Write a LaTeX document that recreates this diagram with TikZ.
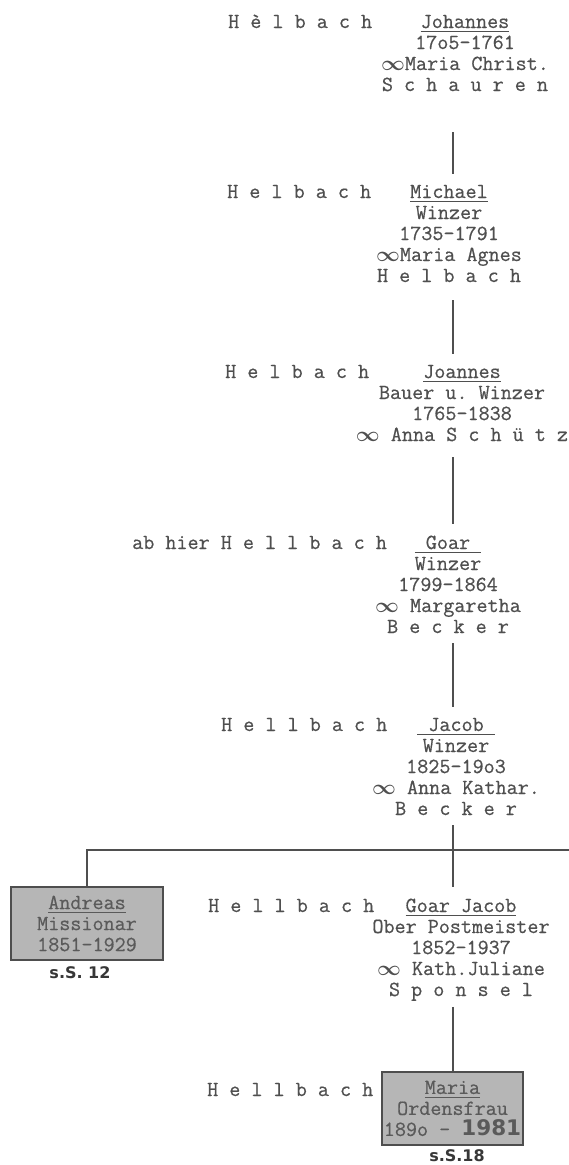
\documentclass[tikz,border=0pt]{standalone}
\usepackage{fontspec}
\setmonofont{Latin Modern Mono}[FakeBold=0.6]
\newfontfamily\refsans{DejaVu Sans}
\usepackage{xcolor}

\definecolor{ink}{HTML}{4F4F4F}
\definecolor{cardfill}{HTML}{B6B6B6}
\definecolor{cardline}{HTML}{4E4E4E}
\definecolor{cardtext}{HTML}{5A5A5A}

\newcommand{\wed}{$\boldsymbol{\infty}$}

\tikzset{
	surname/.style={anchor=base west, inner sep=0pt, text=ink, font=\ttfamily\fontsize{21.5}{21}\selectfont},
	person/.style={anchor=base, align=center, inner sep=0pt, text=ink, font=\ttfamily\fontsize{21.5}{21}\selectfont},
	card/.style={draw=cardline, fill=cardfill, line width=1.3pt, align=center, inner sep=0pt, text=cardtext, font=\ttfamily\fontsize{21.5}{21}\selectfont},
	pageref/.style={inner sep=0pt, text=ink!70!black, font=\refsans\bfseries\fontsize{16}{18}\selectfont},
	link/.style={draw=ink, line width=1.4pt, shorten >=11pt}
}

\usepackage{amsmath}

\begin{document}
\begin{tikzpicture}[x=1pt,y=-1pt]

	\useasboundingbox (0,0) rectangle (569,1165);

	% family names on the left
	\node[surname] (sn1) at (228,28) {H è l b a c h};
	\node[surname] (sn2) at (227,198) {H e l b a c h};
	\node[surname] (sn3) at (225,378) {H e l b a c h};
	\node[surname] (sn4) at (132,549) {ab hier H e l l b a c h};
	\node[surname] (sn5) at (221,731) {H e l l b a c h};
	\node[surname] (sn6) at (208,912) {H e l l b a c h};
	\node[surname] (sn7) at (207,1096) {H e l l b a c h};

	% generations (placed at the baseline of their last line)
	\node[person] (johannes) at (465,91) {\underline{Johannes}\\17o5-1761\\\wed Maria Christ.\\S c h a u r e n};
	\node[person] (michael) at (449,282) {\underline{Michael}\\Winzer\\1735-1791\\\wed Maria Agnes\\H e l b a c h};
	\node[person] (joannes) at (462,441) {\underline{Joannes}\\Bauer u. Winzer\\1765-1838\\\wed\ Anna S c h ü t z};
	\node[person] (goar) at (448,633) {\underline{\ Goar\ }\\Winzer\\1799-1864\\\wed\ Margaretha\\B e c k e r};
	\node[person] (jacob) at (456,815) {\underline{\ Jacob\ }\\Winzer\\1825-19o3\\\wed\ Anna Kathar.\\B e c k e r};
	\node[person] (goarjacob) at (461,996) {\underline{Goar Jacob}\\Ober Postmeister\\1852-1937\\\wed\ Kath.Juliane\\S p o n s e l};

	% boxed children
	\node[card, minimum width=152pt, minimum height=73pt] (andreas) at (87,923.5) {\underline{Andreas}\\Missionar\\1851-1929};
	\node[pageref] (refandreas) at (80,973) {s.S. 12};
	\node[card, minimum width=141pt, minimum height=73pt] (maria) at (452.5,1108.5) {\underline{Maria}\\Ordensfrau\\189o - {\refsans\bfseries 1981}};
	\node[pageref] (refmaria) at (457,1156) {s.S.18};

	% lines of descent
	\coordinate (stem) at (453,0);
	\coordinate (branchend) at (569,850);
	\draw[link, shorten <=41pt] (johannes.south -| stem) -- (michael.north -| stem);
	\draw[link, shorten <=18pt] (michael.south -| stem) -- (joannes.north -| stem);
	\draw[link, shorten <=16pt] (joannes.south -| stem) -- (goar.north -| stem);
	\draw[link, shorten <=10pt] (goar.south -| stem) -- (jacob.north -| stem);
	\draw[link, shorten <=10pt] (jacob.south -| stem) -- (goarjacob.north -| stem);
	\draw[link, shorten <=6pt, shorten >=0pt] (goarjacob.south -| stem) -- (maria.north -| stem);
	\draw[link, shorten >=0pt] (andreas.north) |- (branchend);

\end{tikzpicture}
\end{document}
